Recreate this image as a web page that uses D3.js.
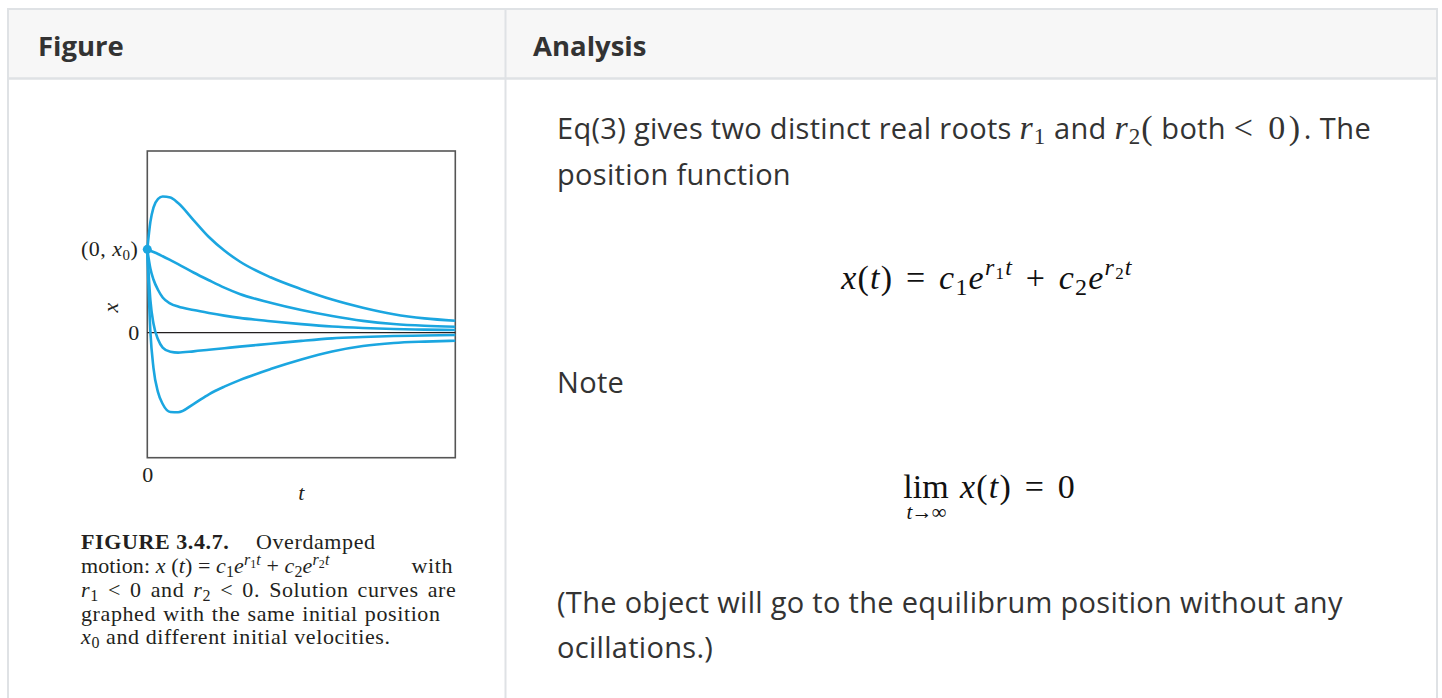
<!DOCTYPE html>
<html>
<head>
<meta charset="utf-8">
<script src="https://cdn.jsdelivr.net/npm/d3@7"></script>
<style>
  html, body { margin: 0; padding: 0; background: #fff; }
  svg { display: block; }
</style>
</head>
<body>
<div id="page"></div>
<script>
// solution curves, x0 = 1
var tValues = [0, 0.1, 0.2, 0.35, 0.5, 0.75, 1, 1.5, 2, 2.5, 3, 4, 5, 6, 7, 8, 9, 10];
var curveHigh = [1.0, 1.33, 1.50, 1.605, 1.634, 1.622, 1.556, 1.352, 1.148, 0.986, 0.854, 0.665, 0.522, 0.398, 0.300, 0.222, 0.172, 0.144];
var curveMid  = [1.0, 0.983, 0.968, 0.944, 0.917, 0.870, 0.822, 0.722, 0.629, 0.540, 0.464, 0.360, 0.272, 0.200, 0.142, 0.104, 0.083, 0.072];
var curveKnee = [1.0, 0.770, 0.638, 0.512, 0.422, 0.349, 0.313, 0.271, 0.236, 0.205, 0.178, 0.138, 0.103, 0.074, 0.056, 0.044, 0.037, 0.032];
var curveDip  = [1.0, 0.392, 0.110, -0.082, -0.178, -0.229, -0.239, -0.224, -0.205, -0.186, -0.167, -0.133, -0.098, -0.068, -0.052, -0.040, -0.034, -0.028];
var curveLow  = [1.0, 0.013, -0.421, -0.716, -0.856, -0.952, -0.955, -0.856, -0.739, -0.648, -0.569, -0.437, -0.322, -0.226, -0.160, -0.124, -0.107, -0.096];
var allCurves = [curveHigh, curveMid, curveKnee, curveDip, curveLow];
var x0Value = 1;
var tDomain = [0, 10];
var xDomain = [-1.5, 2.18];
var xTicks = [0];
var tTicks = [0];
var headers = ["Figure", "Analysis"];

var W = 1442, H = 698;
var blue = "#1ba6e0", ink = "#231f20", text = "#333";
var serif = "'Liberation Serif', 'Times New Roman', serif";
var sans = "'Open Sans', sans-serif";

var svg = d3.select("#page").append("svg")
  .attr("width", W).attr("height", H);

// ---- table frame ----
var border = "#dfe2e5";
svg.append("rect").attr("x", 8).attr("y", 9).attr("width", 1429).attr("height", 69)
  .attr("fill", "#f7f7f7");
svg.append("rect").attr("x", 8).attr("y", 9).attr("width", 1429).attr("height", H + 20)
  .attr("fill", "none").attr("stroke", border).attr("stroke-width", 2);
svg.append("line").attr("x1", 8).attr("x2", 1437).attr("y1", 78.5).attr("y2", 78.5)
  .attr("stroke", border).attr("stroke-width", 2.5);
svg.append("line").attr("x1", 505.5).attr("x2", 505.5).attr("y1", 9).attr("y2", H)
  .attr("stroke", border).attr("stroke-width", 2);

svg.selectAll(".hdr").data(headers).enter().append("text")
  .attr("class", "hdr")
  .attr("x", function(d, i) { return i ? 533 : 38; })
  .attr("y", 56)
  .attr("font-family", sans).attr("font-weight", 700).attr("font-size", 27.5)
  .attr("fill", text)
  .text(function(d) { return d; });

// write a run of styled pieces into one text element
function runs(el, parts) {
  var cur = 0;
  parts.forEach(function(p) {
    var ts = el.append("tspan").text(p.s);
    var sh = p.sh || 0;
    if (sh !== cur) ts.attr("dy", sh - cur);
    cur = sh;
    if (p.it) ts.attr("font-style", "italic");
    if (p.sz) ts.attr("font-size", p.sz);
    if (p.ff) ts.attr("font-family", p.ff);
    if (p.ls != null) ts.attr("letter-spacing", p.ls);
  });
  return el;
}

// ---- the figure ----
var x = d3.scaleLinear().domain(tDomain).range([147.3, 455.3]);
var y = d3.scaleLinear().domain(xDomain).range([457.7, 151]);

var fig = svg.append("g");

fig.append("rect")
  .attr("x", x(tDomain[0])).attr("y", y(xDomain[1]))
  .attr("width", x(tDomain[1]) - x(tDomain[0]))
  .attr("height", y(xDomain[0]) - y(xDomain[1]))
  .attr("fill", "none").attr("stroke", "#555").attr("stroke-width", 1.6);

fig.append("line")
  .attr("x1", x(tDomain[0])).attr("x2", x(tDomain[1]))
  .attr("y1", y(0)).attr("y2", y(0))
  .attr("stroke", ink).attr("stroke-width", 1.3);

var yAxis = fig.append("g")
  .attr("transform", "translate(" + x(tDomain[0]) + ",0)")
  .call(d3.axisLeft(y).tickValues(xTicks).tickSize(0).tickPadding(8).tickFormat(d3.format("d")));
var xAxis = fig.append("g")
  .attr("transform", "translate(0," + y(xDomain[0]) + ")")
  .call(d3.axisBottom(x).tickValues(tTicks).tickSize(0).tickPadding(9).tickFormat(d3.format("d")));
[yAxis, xAxis].forEach(function(a) {
  a.select(".domain").remove();
  a.selectAll("text").attr("font-family", serif).attr("font-size", 22).attr("fill", ink);
});

var line = d3.line()
  .x(function(d, i) { return x(tValues[i]); })
  .y(function(d) { return y(d); })
  .curve(d3.curveMonotoneX);

fig.selectAll(".sol").data(allCurves).enter().append("path")
  .attr("class", "sol")
  .attr("d", line)
  .attr("fill", "none").attr("stroke", blue).attr("stroke-width", 2.6)
  .attr("stroke-linejoin", "round");

fig.append("circle")
  .attr("cx", x(0)).attr("cy", y(x0Value)).attr("r", 4.5).attr("fill", blue);

runs(fig.append("text").attr("x", x(0) - 9).attr("y", y(x0Value) + 7)
  .attr("text-anchor", "end").attr("font-family", serif).attr("font-size", 22)
  .attr("letter-spacing", 0.5).attr("fill", ink), [
  {s: "(0, "}, {s: "x", it: 1}, {s: "0", sh: 4, sz: 15}, {s: ")", sh: 0}
]);

fig.append("text")
  .attr("transform", "translate(" + (x(0) - 29) + "," + y(0.3) + ") rotate(-90)")
  .attr("text-anchor", "middle")
  .attr("font-family", serif).attr("font-style", "italic").attr("font-size", 22).attr("fill", ink)
  .text("x");

fig.append("text")
  .attr("x", x(5)).attr("y", y(xDomain[0]) + 42)
  .attr("text-anchor", "middle")
  .attr("font-family", serif).attr("font-style", "italic").attr("font-size", 22).attr("fill", ink)
  .text("t");

// ---- caption ----
var cap = svg.append("g").attr("font-family", serif).attr("font-size", 22)
  .attr("letter-spacing", 0.6).attr("fill", ink);
cap.append("text").attr("x", 81).attr("y", 549).attr("font-weight", 700).text("FIGURE 3.4.7.");
cap.append("text").attr("x", 256).attr("y", 549).text("Overdamped");
runs(cap.append("text").attr("x", 81).attr("y", 573).attr("letter-spacing", 0.1), [
  {s: "motion: "}, {s: "x", it: 1}, {s: " ("}, {s: "t", it: 1}, {s: ") = "},
  {s: "c", it: 1}, {s: "1", sh: 4, sz: 16}, {s: "e", it: 1, sh: 0},
  {s: "r", it: 1, sh: -8, sz: 16}, {s: "1", sh: -5, sz: 12}, {s: "t", it: 1, sh: -8, sz: 16},
  {s: " + ", sh: 0}, {s: "c", it: 1}, {s: "2", sh: 4, sz: 16}, {s: "e", it: 1, sh: 0},
  {s: "r", it: 1, sh: -8, sz: 16}, {s: "2", sh: -5, sz: 12}, {s: "t", it: 1, sh: -8, sz: 16}
]);
cap.append("text").attr("x", 453).attr("y", 573).attr("text-anchor", "end").text("with");
runs(cap.append("text").attr("x", 81).attr("y", 597).attr("word-spacing", 3), [
  {s: "r", it: 1}, {s: "1", sh: 4, sz: 16}, {s: " < 0 and ", sh: 0},
  {s: "r", it: 1}, {s: "2", sh: 4, sz: 16}, {s: " < 0. Solution curves are", sh: 0}
]);
cap.append("text").attr("x", 81).attr("y", 621).attr("word-spacing", 1)
  .text("graphed with the same initial position");
runs(cap.append("text").attr("x", 81).attr("y", 644), [
  {s: "x", it: 1}, {s: "0", sh: 4, sz: 16}, {s: " and different initial velocities.", sh: 0}
]);

// ---- analysis column ----
var body = svg.append("g").attr("font-family", sans).attr("font-size", 29)
  .attr("letter-spacing", 0.3).attr("fill", text);
var mathFont = serif;
runs(body.append("text").attr("x", 557).attr("y", 139), [
  {s: "Eq(3) gives two distinct real roots "},
  {s: "r", it: 1, ff: mathFont, sz: 34, ls: 1}, {s: "1", ff: mathFont, sz: 23, sh: 5, ls: 1},
  {s: " and ", sh: 0, ls: 0.3},
  {s: "r", it: 1, ff: mathFont, sz: 34, ls: 1}, {s: "2", ff: mathFont, sz: 23, sh: 5, ls: 1},
  {s: "(", ff: mathFont, sz: 34, sh: 0, ls: 1}, {s: " both ", ls: 0.3},
  {s: "< 0)", ff: mathFont, sz: 34, ls: 3.5}, {s: ". The", ls: 0.5}
]);
body.append("text").attr("x", 557).attr("y", 185).text("position function");
body.append("text").attr("x", 557).attr("y", 393).text("Note");
body.append("text").attr("x", 557).attr("y", 613).text("(The object will go to the equilibrum position without any");
body.append("text").attr("x", 557).attr("y", 658).text("ocillations.)");

var m = svg.append("g").attr("font-family", mathFont).attr("font-size", 34)
  .attr("letter-spacing", 1.2).attr("word-spacing", 3).attr("fill", "#111");
runs(m.append("text").attr("x", 987).attr("y", 289).attr("text-anchor", "middle"), [
  {s: "x", it: 1}, {s: "("}, {s: "t", it: 1}, {s: ") = "},
  {s: "c", it: 1}, {s: "1", sh: 6, sz: 24}, {s: "e", it: 1, sh: 0},
  {s: "r", it: 1, sh: -14, sz: 24}, {s: "1", sh: -10, sz: 17}, {s: "t", it: 1, sh: -14, sz: 24},
  {s: " + ", sh: 0}, {s: "c", it: 1}, {s: "2", sh: 6, sz: 24}, {s: "e", it: 1, sh: 0},
  {s: "r", it: 1, sh: -14, sz: 24}, {s: "2", sh: -10, sz: 17}, {s: "t", it: 1, sh: -14, sz: 24}
]);
m.append("text").attr("x", 926).attr("y", 498).attr("text-anchor", "middle")
  .attr("letter-spacing", 0).text("lim");
runs(m.append("text").attr("x", 926).attr("y", 519).attr("text-anchor", "middle")
  .attr("font-size", 21).attr("letter-spacing", -1), [
  {s: "t", it: 1}, {s: "→∞"}
]);
runs(m.append("text").attr("x", 960).attr("y", 498), [
  {s: "x", it: 1}, {s: "("}, {s: "t", it: 1}, {s: ") = 0"}
]);
</script>
</body>
</html>
